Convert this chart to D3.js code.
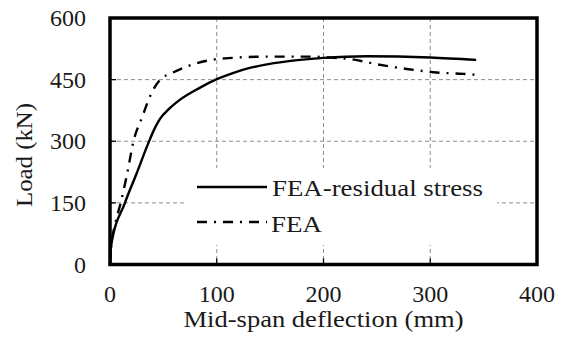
<!DOCTYPE html>
<html>
<head>
<meta charset="utf-8">
<script src="https://cdn.jsdelivr.net/npm/d3@7"></script>
<style>
  html, body { margin: 0; padding: 0; background: #fff; }
  svg { display: block; }
  svg text { font-family: 'Liberation Serif', serif; fill: #1a1a1a; }
</style>
</head>
<body>
<svg id="chart" width="566" height="338"></svg>
<script>
// Load–deflection curves, mid-span deflection in mm, load in kN
const residualDefl = [0, 1, 14, 25, 36, 42, 47, 55, 65, 84, 100, 115, 130, 147, 178, 200, 240, 300, 343];
const residualLoad = [0, 45, 150, 222, 296, 332, 355, 378, 400, 430, 451, 466, 478, 487, 498, 503, 507, 504, 498];

const feaDefl = [0, 1, 5, 10, 16, 22, 30, 39, 47, 58, 72, 97, 115, 147, 187, 210, 225, 251, 278, 303, 331, 343];
const feaLoad = [0, 40, 100, 150, 220, 300, 358, 418, 450, 466, 482, 499, 503, 506, 506, 503, 500, 487, 476, 468, 464, 462];

const xTicks = [0, 100, 200, 300, 400];
const yTicks = [0, 150, 300, 450, 600];

const seriesNames = ["FEA-residual stress", "FEA"];

const svg = d3.select("#chart");
const plotLeft = 110, plotRight = 537, plotTop = 18, plotBottom = 264.5;

const x = d3.scaleLinear().domain([0, 400]).range([plotLeft, plotRight]);
const y = d3.scaleLinear().domain([0, 600]).range([plotBottom, plotTop]);

// dashed grid
const grid = svg.append("g").attr("stroke", "#8c8c8c").attr("stroke-width", 1).attr("stroke-dasharray", "4,3");
grid.selectAll("line.v").data(xTicks.slice(1, -1)).join("line")
  .attr("x1", d => x(d)).attr("x2", d => x(d)).attr("y1", plotTop).attr("y2", plotBottom);
grid.selectAll("line.h").data(yTicks.slice(1, -1)).join("line")
  .attr("y1", d => y(d)).attr("y2", d => y(d)).attr("x1", plotLeft).attr("x2", plotRight);

// inward tick marks
const ticks = svg.append("g").attr("stroke", "#000").attr("stroke-width", 1.3);
ticks.selectAll("line.xt").data(xTicks.slice(1, -1)).join("line")
  .attr("x1", d => x(d)).attr("x2", d => x(d)).attr("y1", plotBottom).attr("y2", plotBottom - 6);
ticks.selectAll("line.yt").data(yTicks.slice(1, -1)).join("line")
  .attr("y1", d => y(d)).attr("y2", d => y(d)).attr("x1", plotLeft).attr("x2", plotLeft + 6);

// legend background blanks the grid behind it
svg.append("rect").attr("x", 185).attr("y", 168).attr("width", 312).attr("height", 77).attr("fill", "#fff");

const line = d3.line().x(d => x(d[0])).y(d => y(d[1])).curve(d3.curveMonotoneX);

const residual = residualDefl.map((d, i) => [d, residualLoad[i]]);
const fea = feaDefl.map((d, i) => [d, feaLoad[i]]);

svg.append("path").datum(fea).attr("d", line)
  .attr("fill", "none").attr("stroke", "#000").attr("stroke-width", 2.4)
  .attr("stroke-dasharray", "10,7,2,7");
svg.append("path").datum(residual).attr("d", line)
  .attr("fill", "none").attr("stroke", "#000").attr("stroke-width", 2.4);

// plot frame
svg.append("rect").attr("x", plotLeft).attr("y", plotTop)
  .attr("width", plotRight - plotLeft).attr("height", plotBottom - plotTop)
  .attr("fill", "none").attr("stroke", "#000").attr("stroke-width", 3.5);

// tick labels
svg.append("g").selectAll("text").data(xTicks).join("text")
  .attr("x", d => x(d)).attr("y", 302).attr("text-anchor", "middle")
  .attr("font-size", 24).text(d => d);
svg.append("g").selectAll("text").data(yTicks).join("text")
  .attr("x", 86).attr("y", d => y(d) + 8).attr("text-anchor", "end")
  .attr("font-size", 24).text(d => d);

// axis titles
svg.append("text").attr("x", 323.5).attr("y", 327).attr("text-anchor", "middle")
  .attr("font-size", 24).attr("textLength", 280).attr("lengthAdjust", "spacingAndGlyphs")
  .text("Mid-span deflection (mm)");
svg.append("text").attr("transform", "translate(32,155) rotate(-90)").attr("text-anchor", "middle")
  .attr("font-size", 24).attr("textLength", 104).attr("lengthAdjust", "spacingAndGlyphs")
  .text("Load (kN)");

// legend
const legend = svg.append("g");
legend.append("line").attr("x1", 197).attr("x2", 267).attr("y1", 187).attr("y2", 187)
  .attr("stroke", "#000").attr("stroke-width", 2.6);
legend.append("line").attr("x1", 197).attr("x2", 267).attr("y1", 222).attr("y2", 222)
  .attr("stroke", "#000").attr("stroke-width", 2.6).attr("stroke-dasharray", "10,7,2,7");
legend.append("text").attr("x", 272).attr("y", 196).attr("font-size", 23)
  .attr("textLength", 211).attr("lengthAdjust", "spacingAndGlyphs").text(seriesNames[0]);
legend.append("text").attr("x", 271).attr("y", 232).attr("font-size", 23)
  .attr("textLength", 51).attr("lengthAdjust", "spacingAndGlyphs").text(seriesNames[1]);
</script>
</body>
</html>
